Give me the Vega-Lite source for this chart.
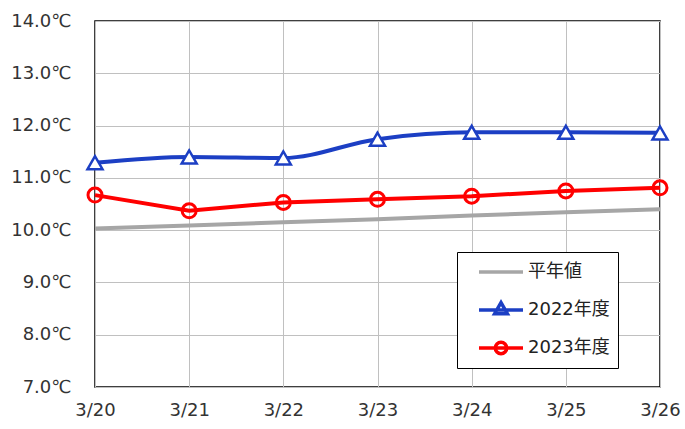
{
  "$schema": "https://vega.github.io/schema/vega-lite/v6.json",
  "width": 565,
  "height": 366,
  "autosize": {"type": "none"},
  "padding": {"left": 95, "top": 21, "right": 25, "bottom": 42},
  "background": "white",
  "config": {
    "view": {"stroke": "#000000", "strokeWidth": 1.5},
    "font": "DejaVu Sans, Noto Sans CJK JP"
  },
  "data": {
    "values": [
      {"date": "3/20", "series": "平年値", "value": 10.03},
      {"date": "3/21", "series": "平年値", "value": 10.09},
      {"date": "3/22", "series": "平年値", "value": 10.15},
      {"date": "3/23", "series": "平年値", "value": 10.21},
      {"date": "3/24", "series": "平年値", "value": 10.28},
      {"date": "3/25", "series": "平年値", "value": 10.34},
      {"date": "3/26", "series": "平年値", "value": 10.4},
      {"date": "3/20", "series": "2022年度", "value": 11.29},
      {"date": "3/21", "series": "2022年度", "value": 11.4},
      {"date": "3/22", "series": "2022年度", "value": 11.38},
      {"date": "3/23", "series": "2022年度", "value": 11.74},
      {"date": "3/24", "series": "2022年度", "value": 11.87},
      {"date": "3/25", "series": "2022年度", "value": 11.87},
      {"date": "3/26", "series": "2022年度", "value": 11.86},
      {"date": "3/20", "series": "2023年度", "value": 10.67},
      {"date": "3/21", "series": "2023年度", "value": 10.37},
      {"date": "3/22", "series": "2023年度", "value": 10.53},
      {"date": "3/23", "series": "2023年度", "value": 10.59},
      {"date": "3/24", "series": "2023年度", "value": 10.65},
      {"date": "3/25", "series": "2023年度", "value": 10.75},
      {"date": "3/26", "series": "2023年度", "value": 10.81}
    ]
  },
  "encoding": {
    "x": {
      "field": "date",
      "type": "ordinal",
      "sort": null,
      "scale": {"type": "point", "padding": 0},
      "axis": {
        "title": null,
        "labelAngle": 0,
        "labelFont": "DejaVu Sans, Noto Sans CJK JP",
        "labelFontSize": 18,
        "labelColor": "#333333",
        "labelPadding": 14,
        "domain": false,
        "ticks": false,
        "grid": true,
        "gridColor": "#c0c0c0",
        "gridWidth": 1
      }
    },
    "y": {
      "field": "value",
      "type": "quantitative",
      "scale": {"domain": [7, 14], "nice": false, "zero": false},
      "axis": {
        "title": null,
        "values": [7, 8, 9, 10, 11, 12, 13, 14],
        "labelExpr": "format(datum.value, '.1f') + '℃'",
        "labelFont": "DejaVu Sans, Noto Sans CJK JP",
        "labelFontSize": 18,
        "labelColor": "#333333",
        "labelPadding": 24,
        "domain": false,
        "ticks": false,
        "grid": true,
        "gridColor": "#c0c0c0",
        "gridWidth": 1
      }
    }
  },
  "layer": [
    {
      "transform": [{"filter": "datum.series === '平年値'"}],
      "mark": {"type": "line", "strokeWidth": 4},
      "encoding": {
        "color": {
          "field": "series",
          "type": "nominal",
          "scale": {"domain": ["平年値", "2022年度", "2023年度"], "range": ["#a6a6a6", "#1c3fc4", "#ff0000"]},
          "legend": {
            "title": null,
            "orient": "none",
            "legendX": 362,
            "legendY": 231,
            "direction": "vertical",
            "fillColor": "white",
            "strokeColor": "#000000",
            "padding": 8,
            "symbolOffset": 12,
            "symbolSize": 1936,
            "symbolStrokeWidth": 3.5,
            "symbolFillColor": "white",
            "clipHeight": 24,
            "rowPadding": 14,
            "labelOffset": 3,
            "labelFontSize": 18,
            "labelColor": "#222222",
            "labelFont": "DejaVu Sans, Noto Sans CJK JP",
            "encode": {
              "symbols": {
                "update": {
                  "shape": {"signal": "datum.value === '2022年度' ? 'M-1,0H1M0,-0.34L-0.29,0.17L0.29,0.17Z' : datum.value === '2023年度' ? 'M-1,0H1M0.26,0A0.26,0.26,0,1,1,-0.26,0A0.26,0.26,0,1,1,0.26,0Z' : 'M-1,0H1'"}
                }
              }
            }
          }
        }
      }
    },
    {
      "transform": [{"filter": "datum.series === '2022年度'"}],
      "mark": {"type": "line", "strokeWidth": 4, "interpolate": "monotone"},
      "encoding": {"color": {"field": "series", "type": "nominal"}}
    },
    {
      "transform": [{"filter": "datum.series === '2023年度'"}],
      "mark": {"type": "line", "strokeWidth": 4},
      "encoding": {"color": {"field": "series", "type": "nominal"}}
    },
    {
      "transform": [{"filter": "datum.series === '2022年度'"}],
      "mark": {"type": "point", "shape": "triangle-up", "size": 225, "filled": false, "fill": "white", "fillOpacity": 1, "stroke": "#1c3fc4", "strokeWidth": 2.5, "opacity": 1},
      "encoding": {}
    },
    {
      "transform": [{"filter": "datum.series === '2023年度'"}],
      "mark": {"type": "point", "shape": "circle", "size": 196, "filled": false, "stroke": "#ff0000", "strokeWidth": 3, "opacity": 1},
      "encoding": {}
    }
  ]
}
